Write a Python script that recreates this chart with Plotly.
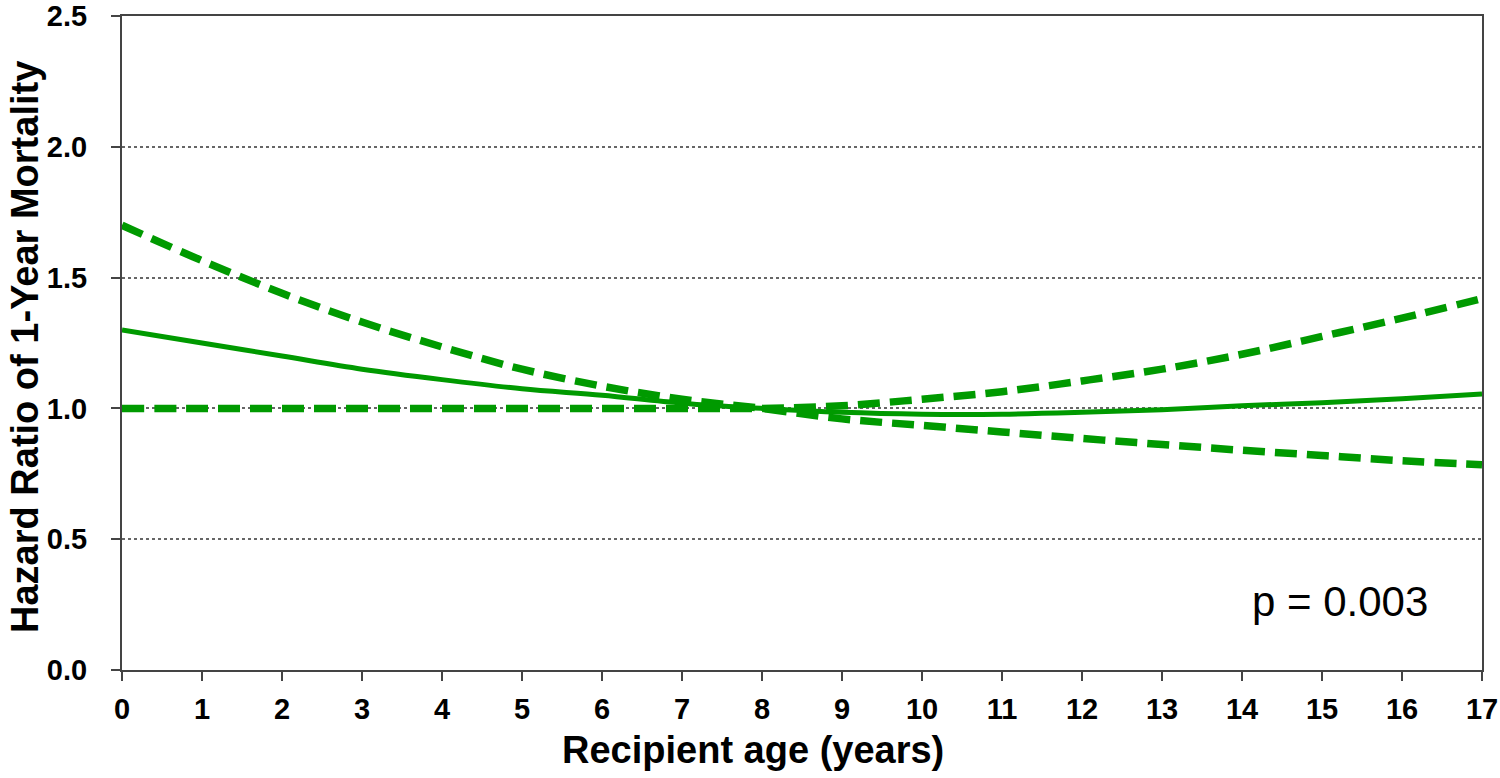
import plotly.graph_objects as go

ages = list(range(0, 18))
hr_estimate = [1.30, 1.25, 1.20, 1.15, 1.11, 1.075, 1.05, 1.02, 1.00, 0.985,
               0.978, 0.978, 0.985, 0.995, 1.01, 1.022, 1.037, 1.055]
ci_a = [1.70, 1.565, 1.44, 1.33, 1.235, 1.15, 1.085, 1.035, 1.00, 0.96,
        0.935, 0.91, 0.885, 0.862, 0.84, 0.82, 0.80, 0.785]
ci_b = [1.00, 1.00, 1.00, 1.00, 1.00, 1.00, 1.00, 1.00, 1.00, 1.01,
        1.035, 1.064, 1.105, 1.15, 1.207, 1.275, 1.345, 1.42]

x_ticks = list(range(0, 18))
y_ticks = [0.0, 0.5, 1.0, 1.5, 2.0, 2.5]
y_tick_labels = ["0.0", "0.5", "1.0", "1.5", "2.0", "2.5"]

GREEN = "#009a00"
FONT = "Arial, Liberation Sans, sans-serif"

fig = go.Figure()
for ys in (ci_a, ci_b):
    fig.add_trace(go.Scatter(x=ages, y=ys, mode="lines", line_shape="spline",
                             line=dict(color=GREEN, width=7.5, dash="22px,10px"),
                             showlegend=False, hoverinfo="skip"))
fig.add_trace(go.Scatter(x=ages, y=hr_estimate, mode="lines", line_shape="spline",
                         line=dict(color=GREEN, width=5),
                         showlegend=False, hoverinfo="skip"))

fig.add_annotation(x=1, xref="paper", xanchor="right", xshift=-52,
                   y=0.26, yref="y", yanchor="middle",
                   text="p = 0.003", showarrow=False,
                   font=dict(family=FONT, size=42, color="black"))

fig.add_annotation(x=0.464, xref="paper", xanchor="center",
                   y=-0.1223, yref="paper", yanchor="middle",
                   text="<b>Recipient age (years)</b>", showarrow=False,
                   font=dict(family=FONT, size=38, color="black"))

fig.add_annotation(x=-0.0713, xref="paper", xanchor="center",
                   y=0.494, yref="paper", yanchor="middle", textangle=-90,
                   text="<b>Hazard Ratio of 1-Year Mortality</b>", showarrow=False,
                   font=dict(family=FONT, size=38, color="black"))

fig.update_layout(
    width=1500, height=778,
    margin=dict(l=122, r=18, t=16, b=108),
    plot_bgcolor="white", paper_bgcolor="white",
    font=dict(family=FONT, color="black"),
    xaxis=dict(range=[0, 17], tickvals=x_ticks, ticktext=[str(t) for t in x_ticks],
               ticks="outside", ticklen=9, tickwidth=2, tickcolor="#444",
               showline=True, linecolor="#444", linewidth=2, mirror=True,
               showgrid=False, zeroline=False, automargin=False,
               ticklabeloverflow="allow",
               tickfont=dict(family=FONT, size=29, color="black", weight="bold"),
               ticklabelstandoff=3),
    yaxis=dict(range=[0, 2.5], tickvals=y_ticks, ticktext=y_tick_labels,
               ticks="outside", ticklen=9, tickwidth=2, tickcolor="#444",
               showline=True, linecolor="#444", linewidth=2, mirror=True,
               showgrid=True, gridcolor="#666", gridwidth=1.5, griddash="dot",
               zeroline=False, automargin=False,
               ticklabeloverflow="allow",
               tickfont=dict(family=FONT, size=29, color="black", weight="bold"),
               ticklabelstandoff=18),
)

fig.write_html("out.html",
               config={"displayModeBar": False},
               post_script="document.body.style.margin='0';document.body.style.overflow='hidden';")
